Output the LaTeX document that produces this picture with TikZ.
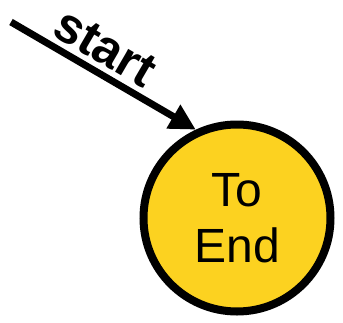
\documentclass[tikz,border=0pt]{standalone}
\usepackage{fontspec}
\setmainfont{Liberation Sans}
\usetikzlibrary{arrows.meta}
\definecolor{stateyellow}{RGB}{252,210,32}

\begin{document}
\begin{tikzpicture}[x=1pt,y=-1pt,auto]
				\useasboundingbox (0,0) rectangle (343,322);
				\node[circle,draw,line width=8pt,fill=stateyellow,minimum size=187pt,inner sep=0pt,align=center,font=\fontsize{48}{56}\selectfont] (toend) at (237,218) {To\\End};
				\coordinate (init) at (11,22);
				\draw[-{Triangle[length=26pt,width=26pt]},line width=7pt] (init) to node[sloped,pos=0.44,font=\fontsize{50}{56}\selectfont\bfseries,inner sep=5pt]{start}(toend.115);
			\end{tikzpicture}
\end{document}
